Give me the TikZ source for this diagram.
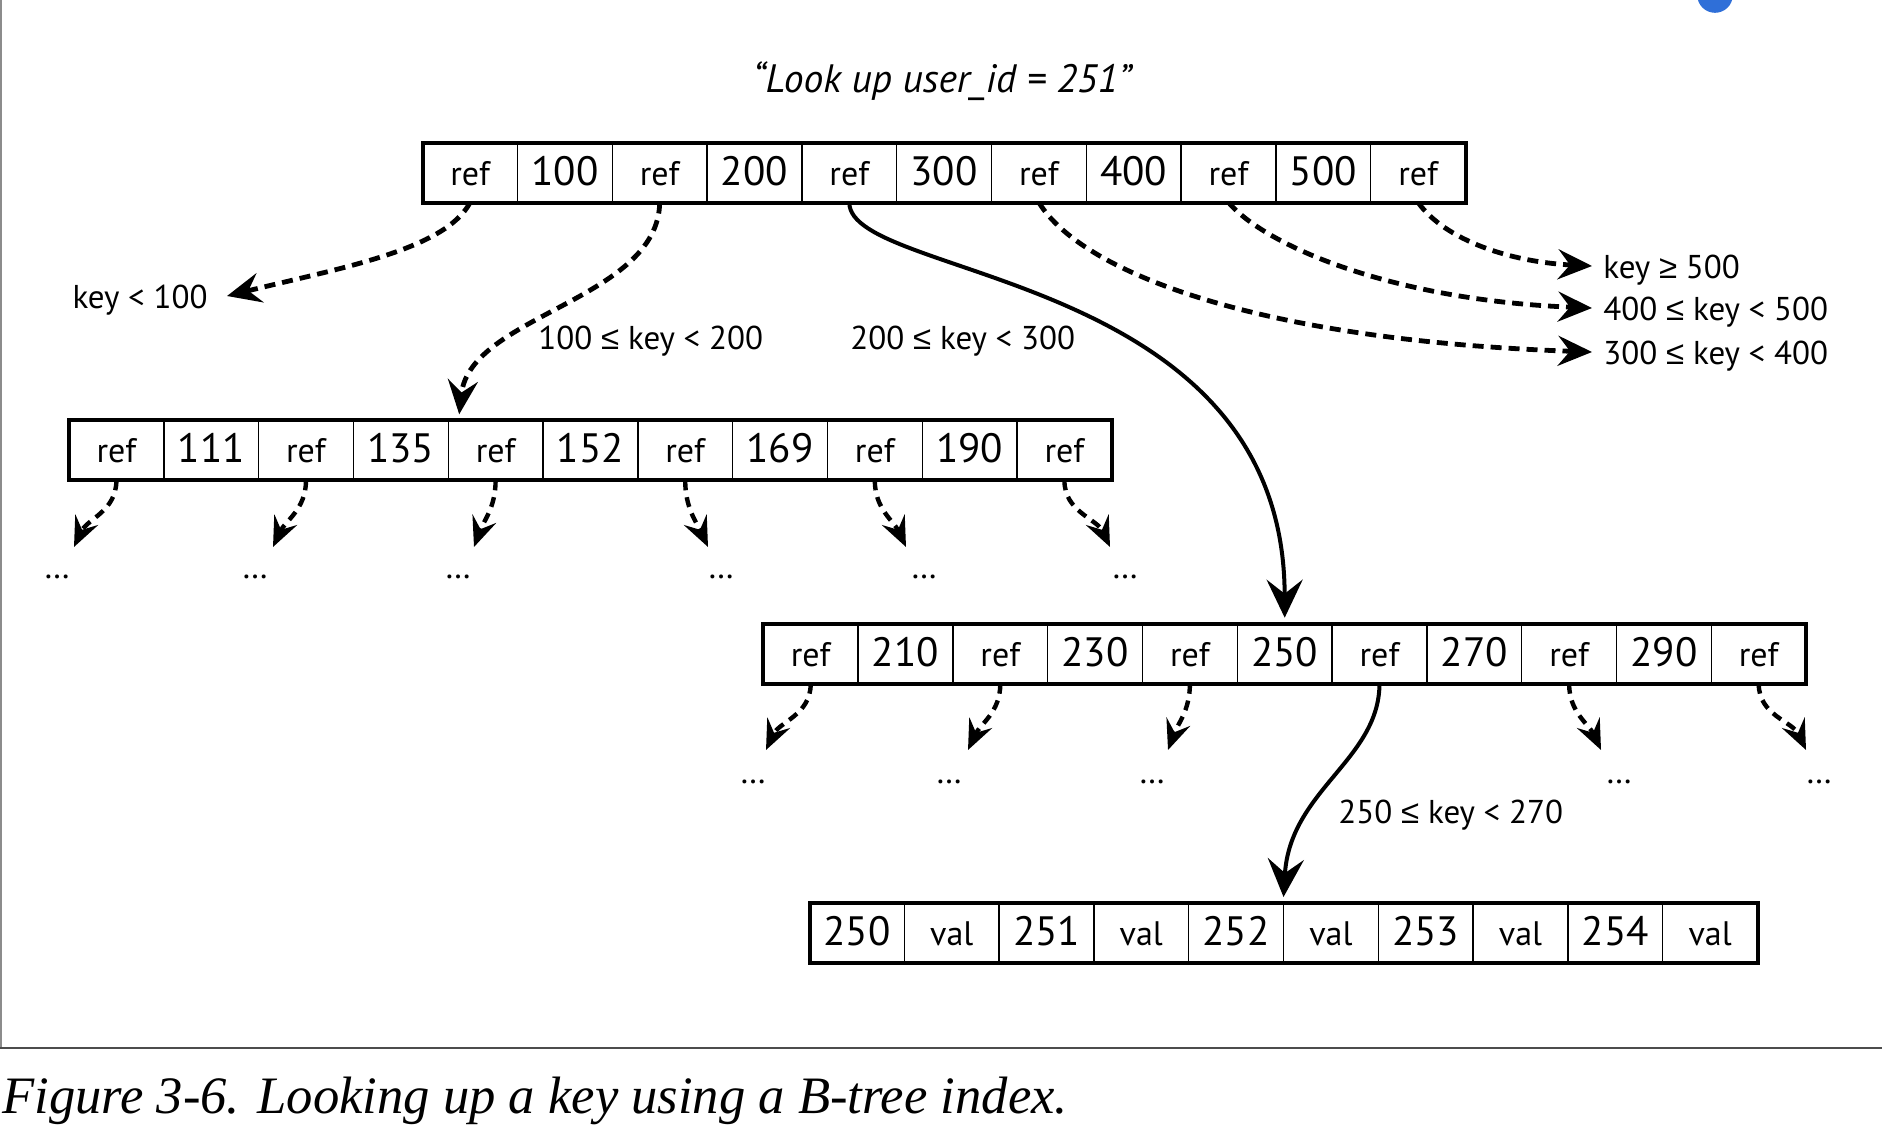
\documentclass[tikz,border=0pt]{standalone}
\usepackage{fontspec}
\setmainfont{PT Sans}
\newfontfamily\capfnt{Liberation Serif}
\newfontfamily\symfnt{Liberation Sans}
\usetikzlibrary{arrows.meta}
\newcommand\myle{{\symfnt ≤}}
\newcommand\myge{{\symfnt ≥}}
\definecolor{blob}{HTML}{2F6FD8}
\begin{document}
\begin{tikzpicture}[x=0.5pt,y=-0.5pt,
 cellbox/.style={draw, line width=0.7pt, minimum width=47.4pt, minimum height=30pt, inner sep=0pt, outer sep=0pt, text height=12.5pt, text depth=0pt},
 numcell/.style={cellbox, font=\fontsize{20.5}{24}\selectfont},
 refcell/.style={cellbox, font=\fontsize{17}{20}\selectfont},
 rowframe/.style={line width=2pt},
 lbl/.style={font=\fontsize{16.5}{20}\selectfont, inner sep=0pt, text height=12pt, text depth=0pt},
 dotsn/.style={font=\fontsize{17}{20}\selectfont, inner sep=0pt, anchor=base},
 dsh/.style={line width=2.4pt, dash pattern=on 5.5pt off 3.5pt, -{Stealth[length=17pt,width=15pt,inset=6pt]}},
 dshs/.style={line width=2.2pt, dash pattern=on 5pt off 3.5pt, -{Stealth[length=15pt,width=12.5pt,inset=5.5pt]}},
 sol/.style={line width=2pt, -{Stealth[length=19pt,width=18pt,inset=7pt]}},
]
\fill[white] (0,0) rectangle (1882,1136);
\useasboundingbox (0,0) rectangle (1882,1136);
% frame lines and blob
\draw[black!45, line width=0.8pt] (1,0) -- (1,1048);
\draw[black!70, line width=1.2pt] (0,1048) -- (1882,1048);
\begin{scope}
\clip (0,0) rectangle (1882,1136);
\fill[blob] (1715,-5) circle[radius=8.9pt];
\end{scope}

% title
\node[font=\itshape\fontsize{19.8}{24}\selectfont, anchor=base, inner sep=0pt] (title) at (942,92.7) {“Look up user\_id = 251”};

% rows
\foreach \t [count=\i] in {ref,100,ref,200,ref,300,ref,400,ref,500,ref}{
  \ifodd\i \node[refcell] (t\i) at ({422.7+94.8*(\i-0.5)},172.5) {\t};
  \else \node[numcell] (t\i) at ({422.7+94.8*(\i-0.5)},172.5) {\t}; \fi
}
\draw[rowframe] (t1.north west) rectangle (t11.south east);

\foreach \t [count=\i] in {ref,111,ref,135,ref,152,ref,169,ref,190,ref}{
  \ifodd\i \node[refcell] (m\i) at ({69+94.8*(\i-0.5)},450.3) {\t};
  \else \node[numcell] (m\i) at ({69+94.8*(\i-0.5)},450.3) {\t}; \fi
}
\draw[rowframe] (m1.north west) rectangle (m11.south east);

\foreach \t [count=\i] in {ref,210,ref,230,ref,250,ref,270,ref,290,ref}{
  \ifodd\i \node[refcell] (b\i) at ({763.3+94.8*(\i-0.5)},653.7) {\t};
  \else \node[numcell] (b\i) at ({763.3+94.8*(\i-0.5)},653.7) {\t}; \fi
}
\draw[rowframe] (b1.north west) rectangle (b11.south east);

\foreach \t [count=\i] in {250,val,251,val,252,val,253,val,254,val}{
  \ifodd\i \node[numcell] (l\i) at ({809.5+94.8*(\i-0.5)},933) {\t};
  \else \node[refcell] (l\i) at ({809.5+94.8*(\i-0.5)},933) {\t}; \fi
}
\draw[rowframe] (l1.north west) rectangle (l10.south east);

% labels
\node[lbl, anchor=east] (kl) at (208,296) {key < 100};
\node[lbl, anchor=west] (k12) at (538,337) {100 \myle{} key < 200};
\node[lbl, anchor=west] (k23) at (850,337) {200 \myle{} key < 300};
\node[lbl, anchor=west] (k500) at (1603,266) {key \myge{} 500};
\node[lbl, anchor=west] (k400) at (1603,308) {400 \myle{} key < 500};
\node[lbl, anchor=west] (k300) at (1603,352) {300 \myle{} key < 400};
\node[lbl, anchor=west] (k250) at (1338,811) {250 \myle{} key < 270};

% top arrows
\draw[dsh] (t1.south) .. controls (445,250) and (340,268) .. ([xshift=9.5pt]kl.east);
\draw[dsh] (t3.south) .. controls (658,300) and (470,315) .. ([xshift=5.5pt,yshift=3pt]m5.north west);
\draw[sol] (t5.south) .. controls (849,280) and (1284,270) .. ([yshift=3pt]b6.north);
\draw[dsh] (t7.south) .. controls (1080,270) and (1250,340) .. ([xshift=-5.5pt]k300.west);
\draw[dsh] (t9.south) .. controls (1265,245) and (1390,300) .. ([xshift=-5.5pt]k400.west);
\draw[dsh] (t11.south) .. controls (1445,240) and (1510,262) .. ([xshift=-5.5pt]k500.west);
\draw[sol] (b7.south) .. controls (1379,760) and (1290,790) .. ([yshift=3pt]l5.north east);

% middle row short arrows
\coordinate (ma1) at (74,547);
\coordinate (ma3) at (273,547);
\coordinate (ma5) at (474,547);
\coordinate (ma7) at (708,547);
\coordinate (ma9) at (906,547);
\coordinate (ma11) at (1110,547);
\draw[dshs] (m1.south) to[out=-90,in=65] (ma1);
\draw[dshs] (m3.south) to[out=-90,in=65] (ma3);
\draw[dshs] (m5.south) to[out=-90,in=70] (ma5);
\draw[dshs] (m7.south) to[out=-90,in=115] (ma7);
\draw[dshs] (m9.south) to[out=-90,in=115] (ma9);
\draw[dshs] (m11.south) to[out=-90,in=115] (ma11);
\foreach \x [count=\k] in {57,255,458,721,924,1125}{
  \node[dotsn] (md\k) at (\x,578) {…};
}

% third row short arrows
\coordinate (ba1) at (766,750);
\coordinate (ba3) at (968,750);
\coordinate (ba5) at (1168,750);
\coordinate (ba9) at (1601,750);
\coordinate (ba11) at (1806,750);
\draw[dshs] (b1.south) to[out=-90,in=65] (ba1);
\draw[dshs] (b3.south) to[out=-90,in=65] (ba3);
\draw[dshs] (b5.south) to[out=-90,in=70] (ba5);
\draw[dshs] (b9.south) to[out=-90,in=115] (ba9);
\draw[dshs] (b11.south) to[out=-90,in=115] (ba11);
\foreach \x [count=\k] in {753,949,1152,1619,1819}{
  \node[dotsn] (bd\k) at (\x,783) {…};
}

% caption
\node[font=\capfnt\itshape\fontsize{26.3}{30}\selectfont, anchor=base west, inner sep=0pt] (cap) at (2,1113) {Figure 3-6. Looking up a key using a B-tree index.};
\end{tikzpicture}
\end{document}
